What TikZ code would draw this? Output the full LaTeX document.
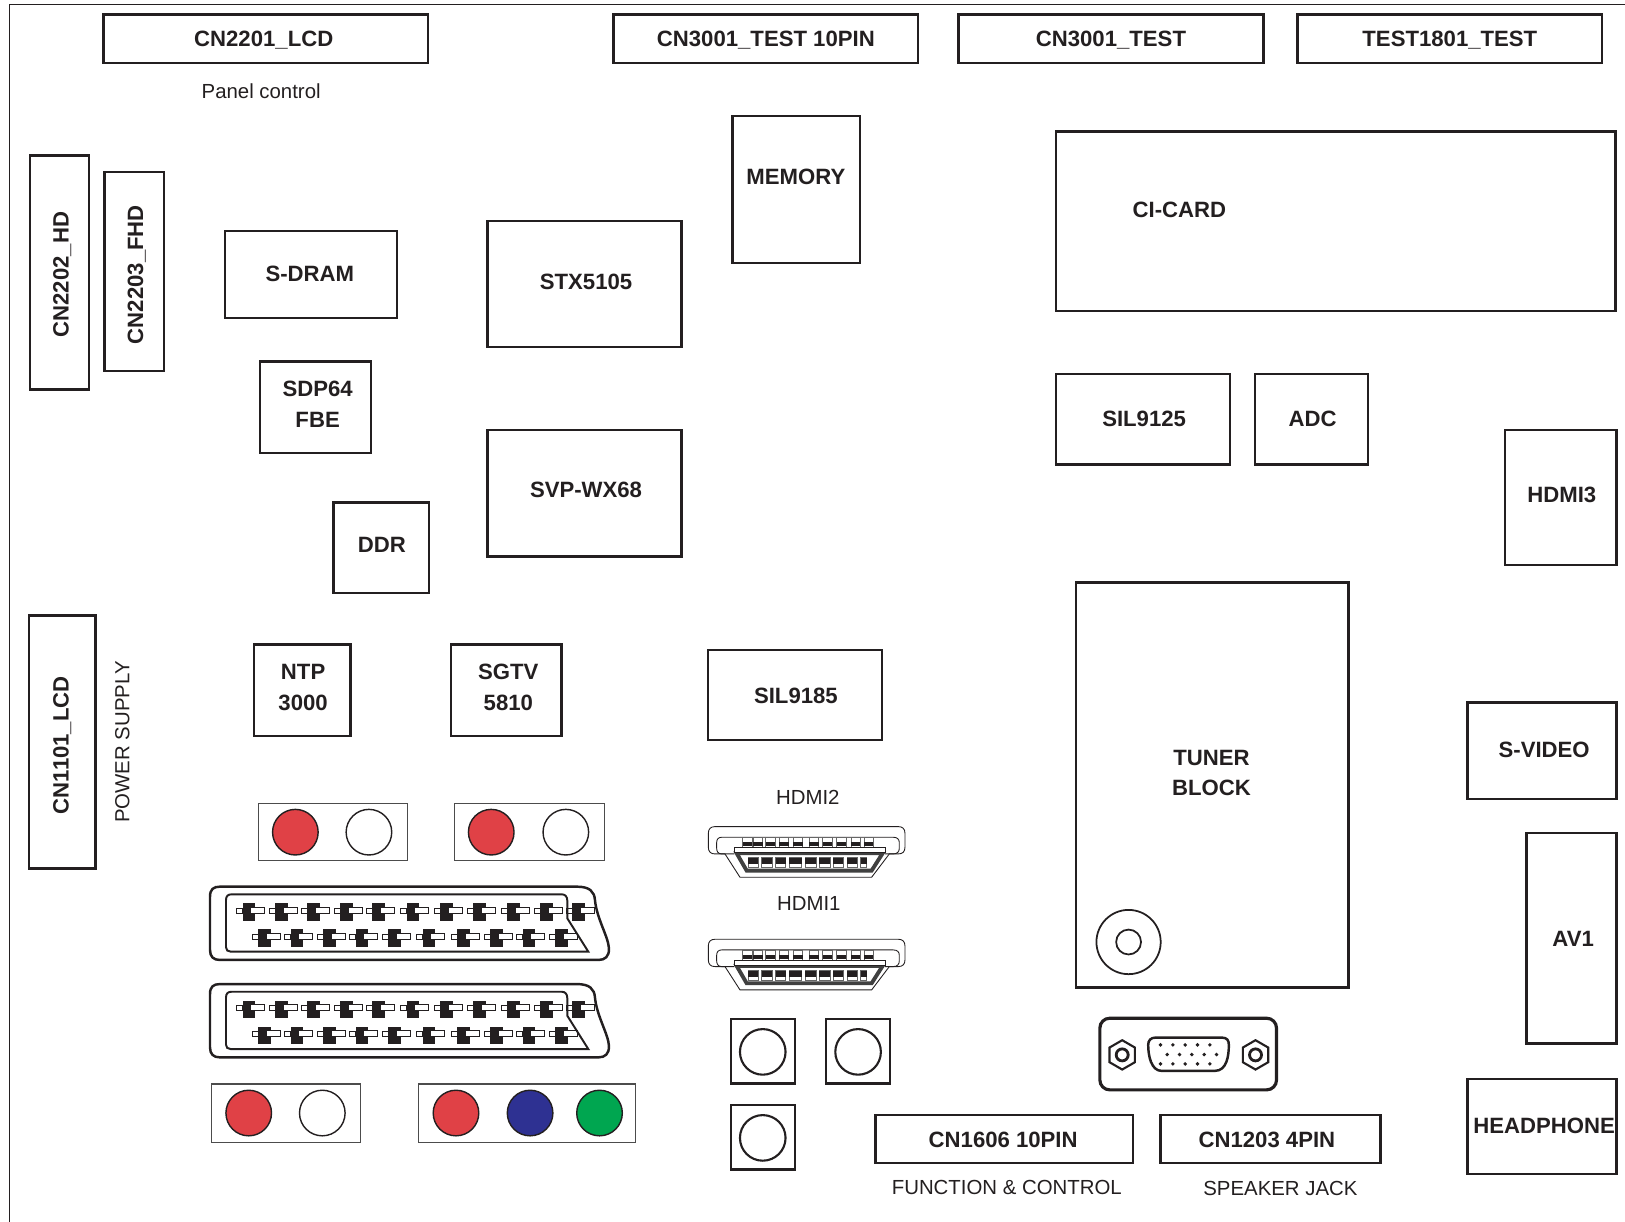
\documentclass[tikz,border=0pt]{standalone}
\usepackage{fontspec}
\setmainfont{Liberation Sans}
\usepackage{xcolor}
\usetikzlibrary{shapes.geometric}
\definecolor{rcared}{HTML}{E04146}
\definecolor{rcablue}{HTML}{2E3192}
\definecolor{rcagreen}{HTML}{00A650}
\definecolor{inkblack}{HTML}{231F20}
\newcommand{\upx}{0.010364cm}
\tikzset{
  wh/.style 2 args={minimum width=#1*\upx,minimum height=#2*\upx},
  blockbox/.style={draw=inkblack,line width=0.7pt,inner sep=0pt,outer sep=0pt},
  boldtext/.style={inner sep=0pt,align=center,text=inkblack,font=\fontsize{6.3}{8.7}\selectfont\bfseries},
  plaintext/.style={inner sep=0pt,align=center,text=inkblack,font=\fontsize{5.8}{7}\selectfont},
  rcabox/.style={draw=black!70,line width=0.3pt,inner sep=0pt},
  rcajack/.style={circle,draw=inkblack,line width=0.4pt,fill=white,inner sep=0pt,minimum size=44*\upx},
  squarebox/.style={draw=inkblack,line width=0.6pt,inner sep=0pt,minimum size=62*\upx},
  squarejack/.style={rcajack,line width=0.6pt},
  scartplug/.pic={
    \begin{scope}[scale=0.3216]
      \draw[inkblack,line width=0.7pt,fill=white] (30,320) .. controls (30,298) and (40,290) .. (60,290) -- (1130,290)
        .. controls (1170,290) and (1183,305) .. (1185,330) .. controls (1190,385) and (1225,440) .. (1227,475)
        .. controls (1228,500) and (1215,510) .. (1195,510) -- (60,510) .. controls (40,510) and (30,500) .. (30,480) -- cycle;
      \foreach \px in {128,225,322,420,517,620,720,820,922,1020,1117}{
        \fill[inkblack] (\px,340) rectangle ++(38,52);
        \draw[inkblack,line width=0.2pt,fill=white] (\px-18,354) rectangle ++(18,15);
        \draw[inkblack,line width=0.2pt,fill=white] (\px+24,352) rectangle ++(42,17);
      }
      \foreach \px in {175,272,370,467,565,668,772,870,968,1065}{
        \fill[inkblack] (\px,418) rectangle ++(38,52);
        \draw[inkblack,line width=0.2pt,fill=white] (\px-18,432) rectangle ++(18,15);
        \draw[inkblack,line width=0.2pt,fill=white] (\px+24,430) rectangle ++(42,17);
      }
      \draw[inkblack,line width=0.55pt,line join=miter] (78,330) .. controls (78,318) and (84,313) .. (95,313) -- (1085,313)
        .. controls (1096,313) and (1102,320) .. (1102,332) -- (1102,385) -- (1165,485) -- (92,485)
        .. controls (83,485) and (78,480) .. (78,472) -- cycle;
    \end{scope}
  },
  hdmiplug/.pic={
    \begin{scope}[scale=0.3216]
      \draw[inkblack,line width=0.25pt,fill=white] (55,160) .. controls (55,147) and (62,140) .. (75,140) -- (625,140)
        .. controls (638,140) and (645,147) .. (645,160) -- (645,202) .. controls (645,215) and (638,222) .. (625,222)
        -- (598,222) -- (545,292) -- (150,292) -- (105,222) -- (75,222) .. controls (62,222) and (55,215) .. (55,202) -- cycle;
      \draw[inkblack,line width=0.25pt] (133,222) -- (95,222) .. controls (85,222) and (80,215) .. (80,205) -- (80,188)
        .. controls (80,178) and (85,172) .. (95,172) -- (610,172) .. controls (622,172) and (628,178) .. (628,188)
        -- (628,205) .. controls (628,215) and (622,222) .. (610,222) -- (585,222);
      \foreach \px in {158,190,227,268,310,358,398,440,483,522}{
        \draw[black!60,line width=0.15pt] (\px,172) rectangle ++(28,30);
        \fill[inkblack] (\px,186) rectangle ++(28,13);
      }
      \draw[black!75,line width=1.1pt,fill=white] (140,220) -- (170,272) -- (545,272) -- (578,220) -- cycle;
      \foreach \px/\pw in {175/30,215/32,257/30,297/38,345/33,388/32,430/30,472/30,512/18}{
        \draw[black!60,line width=0.15pt] (\px,233) rectangle ++(\pw,29);
        \fill[inkblack] (\px,235) rectangle ++(\pw,17);
      }
      \draw[inkblack,line width=0.25pt,fill=white] (133,203) rectangle (585,218);
    \end{scope}
  },
  vgaplug/.pic={
    \begin{scope}[scale=0.3216]
      \draw[inkblack,line width=0.9pt,rounded corners=2.8pt] (60,385) rectangle (590,600);
      \foreach \nx in {127,527}{
        \node[regular polygon,regular polygon sides=6,shape border rotate=30,draw=inkblack,line width=0.6pt,inner sep=0pt,
          minimum size=88*0.3216*\upx] (-nut\nx) at (\nx,495) {};
        \node[circle,draw=inkblack,line width=0.8pt,inner sep=0pt,minimum size=36*0.3216*\upx] (-hole\nx) at (\nx,495) {};
      }
      \draw[inkblack,line width=0.7pt] (228,443) -- (425,443) .. controls (442,443) and (447,452) .. (447,465)
        .. controls (447,500) and (440,543) .. (405,543) -- (245,543) .. controls (215,543) and (205,500) .. (205,465)
        .. controls (205,452) and (212,443) .. (228,443) -- cycle;
      \foreach \dx in {242,279,316,353,390}{
        \fill[inkblack] (\dx,465) circle (1.7pt);
        \fill[inkblack] (\dx,522) circle (1.7pt);
        \fill[inkblack] (\dx+20,494) circle (1.7pt);
      }
    \end{scope}
  }
}
\begin{document}
\begin{tikzpicture}[x=\upx,y=-\upx]
  \useasboundingbox (0,0) rectangle (1568,1179);
  \coordinate (frameright) at (1568,4.5);
  \coordinate (framecorner) at (9.2,4.5);
  \coordinate (framebottom) at (9.2,1179);
  \draw[inkblack,line width=0.45pt] (frameright) -- (framecorner) -- (framebottom);
  % test connectors along the top
  \node[blockbox,wh={313}{47}] (lcd) at (256.5,37.5) {};
  \node[boldtext] (lcdtext) at (254.5,38.5) {CN2201\_LCD};
  \node[blockbox,wh={294}{47}] (testten) at (739,37.5) {};
  \node[boldtext] (testtentext) at (739,38.5) {CN3001\_TEST 10PIN};
  \node[blockbox,wh={294}{47}] (testcn) at (1072,37.5) {};
  \node[boldtext] (testcntext) at (1072,38.5) {CN3001\_TEST};
  \node[blockbox,wh={294}{47}] (testeighteen) at (1399,37.5) {};
  \node[boldtext] (testeighteentext) at (1399,38.5) {TEST1801\_TEST};
  \node[plaintext] (panel) at (252,88) {Panel control};
  % left side connectors
  \node[blockbox,wh={226}{57},rotate=90] (hd) at (57.5,263) {};
  \node[boldtext,rotate=90] (hdtext) at (60,265) {CN2202\_HD};
  \node[blockbox,wh={192}{57},rotate=90] (fhd) at (129.5,262) {};
  \node[boldtext,rotate=90] (fhdtext) at (132,265) {CN2203\_FHD};
  \node[blockbox,wh={244}{64},rotate=90] (power) at (60,716) {};
  \node[boldtext,rotate=90] (powertext) at (60,719) {CN1101\_LCD};
  \node[plaintext,rotate=90] (supply) at (118,716) {POWER SUPPLY};
  % chips
  \node[blockbox,wh={166}{84}] (sdram) at (300,265) {};
  \node[boldtext] (sdramtext) at (299,264) {S-DRAM};
  \node[blockbox,wh={187}{122}] (stx) at (564,274) {};
  \node[boldtext] (stxtext) at (565.5,272) {STX5105};
  \node[blockbox,wh={123}{142}] (memory) at (768.5,183) {};
  \node[boldtext] (memorytext) at (768,170.5) {MEMORY};
  \node[blockbox,wh={540}{173}] (cicard) at (1289,213.5) {};
  \node[boldtext] (cicardtext) at (1138,203) {CI-CARD};
  \node[blockbox,wh={107}{88}] (sdp) at (304.5,393) {};
  \node[boldtext] (sdptext) at (306.5,390) {SDP64\\FBE};
  \node[blockbox,wh={187}{122}] (svp) at (564,476) {};
  \node[boldtext] (svptext) at (565.5,472.5) {SVP-WX68};
  \node[blockbox,wh={92}{87}] (ddr) at (368,528.5) {};
  \node[boldtext] (ddrtext) at (368.5,525.5) {DDR};
  \node[blockbox,wh={168}{87}] (silone) at (1103,404.5) {};
  \node[boldtext] (silonetext) at (1104,404.5) {SIL9125};
  \node[blockbox,wh={109}{87}] (adc) at (1265.5,404.5) {};
  \node[boldtext] (adctext) at (1266.5,404.5) {ADC};
  \node[blockbox,wh={108}{130}] (hdmithree) at (1506,480) {};
  \node[boldtext] (hdmithreetext) at (1507,478) {HDMI3};
  \node[blockbox,wh={93}{88}] (ntp) at (291.5,666) {};
  \node[boldtext] (ntptext) at (292.5,663.5) {NTP\\3000};
  \node[blockbox,wh={107}{88}] (sgtv) at (488.5,666) {};
  \node[boldtext] (sgtvtext) at (490.5,663.5) {SGTV\\5810};
  \node[blockbox,wh={168}{87}] (siltwo) at (767,670.5) {};
  \node[boldtext] (siltwotext) at (768,671.5) {SIL9185};
  \node[blockbox,wh={263}{391}] (tuner) at (1169.5,757.5) {};
  \node[boldtext] (tunertext) at (1169,746) {TUNER\\BLOCK};
  \node[circle,draw=inkblack,line width=0.5pt,inner sep=0pt,minimum size=62*\upx] (antenna) at (1089,909) {};
  \node[circle,draw=inkblack,line width=0.5pt,inner sep=0pt,minimum size=24*\upx] (antennahole) at (1089,909) {};
  % right side connectors
  \node[blockbox,wh={144}{93}] (svideo) at (1488,724.5) {};
  \node[boldtext] (svideotext) at (1490,723.5) {S-VIDEO};
  \node[blockbox,wh={87}{203}] (avone) at (1516.5,905.5) {};
  \node[boldtext] (avonetext) at (1518,906) {AV1};
  \node[blockbox,wh={144}{92}] (phone) at (1488,1087) {};
  \node[boldtext] (phonetext) at (1490,1086) {HEADPHONE};
  % bottom connectors
  \node[blockbox,wh={248}{46}] (func) at (969,1099) {};
  \node[boldtext] (funcpins) at (968,1099.5) {CN1606 10PIN};
  \node[blockbox,wh={212}{46}] (speaker) at (1226,1099) {};
  \node[boldtext] (speakerpins) at (1222.5,1100) {CN1203 4PIN};
  \node[plaintext] (functext) at (971.5,1146) {FUNCTION \& CONTROL};
  \node[plaintext] (speakertext) at (1235.5,1147) {SPEAKER JACK};
  % rca jacks
  \node[rcabox,wh={144}{55}] (rcaa) at (321,802.5) {};
  \node[rcajack,fill=rcared] (rcaared) at (285,803) {};
  \node[rcajack] (rcaawhite) at (356,803) {};
  \node[rcabox,wh={144}{55}] (rcab) at (511,802.5) {};
  \node[rcajack,fill=rcared] (rcabred) at (474,803) {};
  \node[rcajack] (rcabwhite) at (546,803) {};
  \node[rcabox,wh={144}{56}] (rcac) at (276,1074) {};
  \node[rcajack,fill=rcared] (rcacred) at (240,1074) {};
  \node[rcajack] (rcacwhite) at (311,1074) {};
  \node[rcabox,wh={209}{56}] (rcad) at (508.5,1074) {};
  \node[rcajack,fill=rcared] (rcadred) at (440,1074) {};
  \node[rcajack,fill=rcablue] (rcadblue) at (511.5,1074) {};
  \node[rcajack,fill=rcagreen] (rcadgreen) at (578.5,1074) {};
  % scart, hdmi and vga plugs
  \pic (scarta) at (193,762.3) {scartplug};
  \pic (scartb) at (193,856.3) {scartplug};
  \node[plaintext] (hdmitwo) at (779.5,769) {HDMI2};
  \pic (plugtwo) at (665.8,752.6) {hdmiplug};
  \node[plaintext] (hdmione) at (780.5,872) {HDMI1};
  \pic (plugone) at (665.8,861.3) {hdmiplug};
  \pic (vga) at (1042,858.7) {vgaplug};
  % square jacks
  \node[squarebox] (sqa) at (736,1014.5) {};
  \node[squarejack] (sqahole) at (736,1015) {};
  \node[squarebox] (sqb) at (828,1014.5) {};
  \node[squarejack] (sqbhole) at (828,1015) {};
  \node[squarebox] (sqc) at (736,1097.5) {};
  \node[squarejack] (sqchole) at (736,1098) {};
\end{tikzpicture}
\end{document}
